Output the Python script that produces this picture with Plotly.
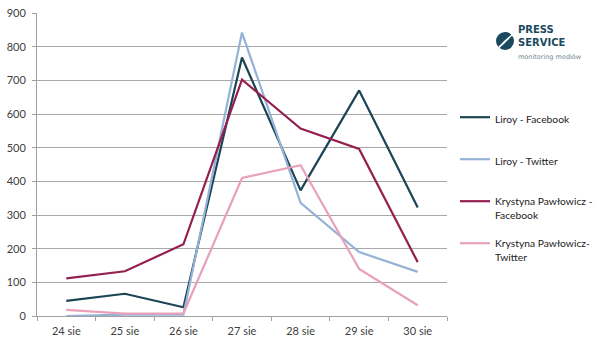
import plotly.graph_objects as go

categories = ["24 sie", "25 sie", "26 sie", "27 sie", "28 sie", "29 sie", "30 sie"]
liroy_fb = [45, 66, 26, 768, 373, 670, 322]
liroy_tw = [0, 4, 4, 842, 336, 190, 131]
kp_fb = [112, 133, 213, 702, 557, 496, 160]
kp_tw = [18, 7, 8, 410, 448, 140, 32]

names = ["Liroy - Facebook", "Liroy - Twitter", "Krystyna Pawłowicz -<br>Facebook", "Krystyna Pawłowicz-<br>Twitter"]
colors = ["#1b4454", "#95b3d7", "#951f4f", "#e8a1b9"]
series = [liroy_fb, liroy_tw, kp_fb, kp_tw]
legend_ids = ["legend", "legend2", "legend3", "legend4"]

W, H = 600, 345
L, R, T, B = 37, 153, 13, 29
pw, ph = W - L - R, H - T - B

def px_x(px):
    return (px - L) / pw

def px_y(py):
    return (H - B - py) / ph

fig = go.Figure()
for vals, nm, col, lg in zip(series, names, colors, legend_ids):
    fig.add_trace(go.Scatter(x=categories, y=vals, name=nm, mode="lines",
                             line=dict(color=col, width=2.2), legend=lg))

font = dict(family="Lato, Open Sans, sans-serif", size=11, color="#404040")
leg_y = [104, 146, 188, 230]
layout_legends = {}
for lg, yy in zip(legend_ids, leg_y):
    layout_legends[lg] = dict(x=px_x(455), y=px_y(yy), xanchor="left", yanchor="top",
                              bgcolor="rgba(0,0,0,0)",
                              font=dict(family="Lato, Open Sans, sans-serif", size=10.3, color="#222"),
                              valign="top", itemwidth=30, tracegroupgap=0)

fig.update_layout(
    width=W, height=H,
    margin=dict(l=L, r=R, t=T, b=B, autoexpand=False),
    plot_bgcolor="white", paper_bgcolor="white",
    font=font,
    showlegend=True,
    **layout_legends,
    xaxis=dict(type="category", tickson="boundaries", ticks="outside", ticklen=4,
               tickcolor="#a0a0a0", showline=True, linecolor="#a0a0a0", linewidth=1,
               showgrid=False, tickfont=font, range=[-0.5, 6.5], ticklabelstandoff=5),
    yaxis=dict(range=[0, 900], dtick=100, ticks="outside", ticklen=4, tickcolor="#a0a0a0",
               showline=True, linecolor="#a0a0a0", gridcolor="#a8a8a8", gridwidth=1,
               zeroline=False, tickfont=font, ticklabelstandoff=4),
)

# Logo "PRESS SERVICE"
cx, cy = 505, 41
fig.add_shape(type="circle", xref="paper", yref="paper", xsizemode="pixel", ysizemode="pixel",
              xanchor=px_x(cx), yanchor=px_y(cy), x0=-9, x1=9, y0=-9, y1=9,
              fillcolor="#1b4a5e", line=dict(width=0))
for off in [-6, -3, 0, 3, 6]:
    fig.add_shape(type="line", xref="paper", yref="paper", xsizemode="pixel", ysizemode="pixel",
                  xanchor=px_x(cx), yanchor=px_y(cy), x0=-6 + off * 0.7, y0=-4 + off * 0.7 - 2,
                  x1=4 + off * 0.7, y1=5 + off * 0.7 - 2,
                  line=dict(color="white", width=1.2))
fig.add_annotation(x=px_x(516), y=px_y(42), xref="paper", yref="paper",
                   text=("<b>PRESS</b><br><b>SERVICE</b><br>"
                         "<span style='font-size:6.5px;color:#6f8791;font-weight:normal'>monitoring mediów</span>"),
                   showarrow=False, xanchor="left", yanchor="middle", align="left",
                   font=dict(family="DejaVu Sans, sans-serif", size=10, color="#1b4a5e"))

fig.write_html("out.html")
